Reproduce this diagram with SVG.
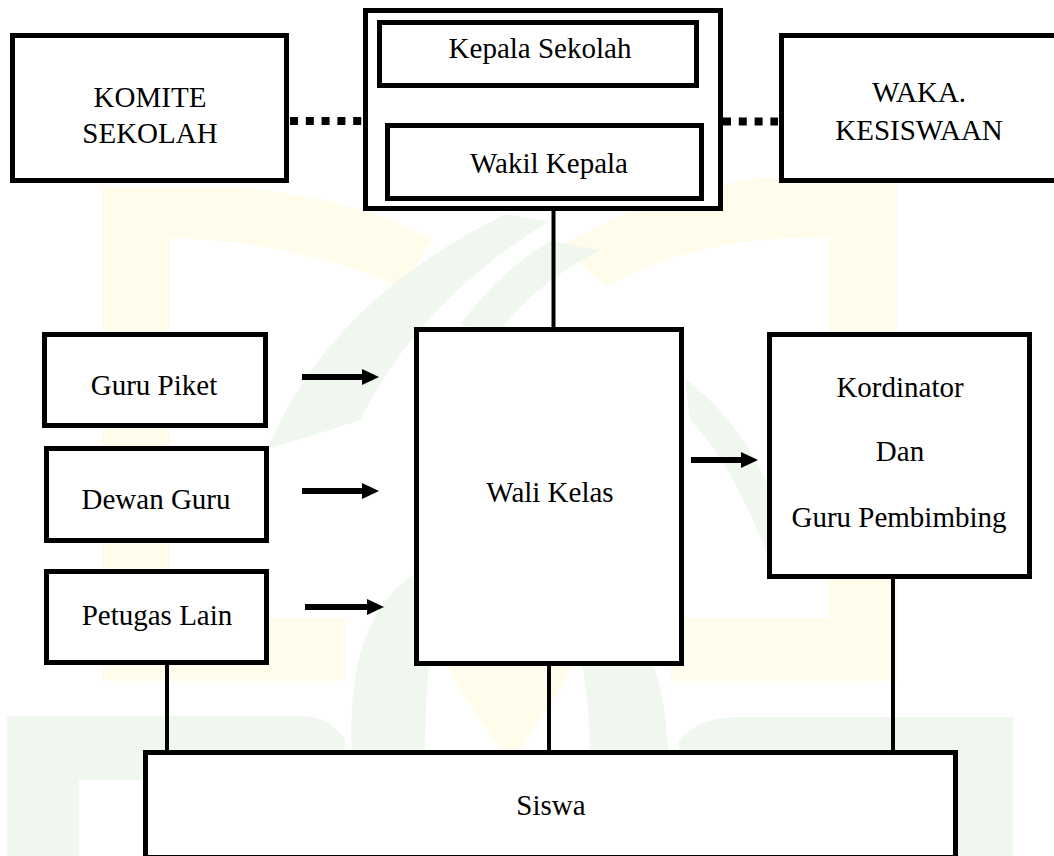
<svg xmlns="http://www.w3.org/2000/svg" width="1054" height="856" viewBox="0 0 1054 856">
<style>
.box{fill:#ffffff;stroke:#000000;stroke-width:5}
.lbl{font-family:"Liberation Serif","Times New Roman",serif;font-size:29px;fill:#000000;text-anchor:middle}
.conn{stroke:#000000;stroke-width:4;fill:none}
.dot{stroke:#000000;stroke-width:8;fill:none;stroke-dasharray:8 7.8}
.arr{stroke:#000000;stroke-width:6;fill:none}
.wy{fill:#fffcec}
.wg{fill:#eff7ee}
</style>
<defs>
<marker id="ah" viewBox="0 0 17 16" refX="4" refY="8" markerWidth="17" markerHeight="16" markerUnits="userSpaceOnUse" orient="auto">
<path d="M0,0 L17,8 L0,16 Z" fill="#000000"/>
</marker>
</defs>
<rect x="0" y="0" width="1054" height="856" fill="#ffffff"/>
<g id="watermark">
<path class="wy" d="M102,681 L102,187 L233,187 Q360,198 433,240 L400,287 Q300,242 170,238 L170,618 L345,618 L345,681 Z"/>
<path class="wy" d="M897,681 L897,178 L760,178 Q640,196 560,247 L607,287 Q690,237 829,237 L829,618 L671,618 L671,681 Z"/>
<path class="wy" d="M440,650 L580,650 L560,690 L520,750 L500,750 L460,690 Z"/>
<path class="wg" d="M268,448 Q330,300 506,214 L548,222 Q420,300 360,420 Q300,440 268,448 Z"/>
<path class="wg" d="M460,325 Q500,270 551,241 L600,250 Q540,280 500,330 Z"/>
<path class="wg" d="M685,379 Q740,420 770,490 L770,560 Q730,460 690,420 Z"/>
<path class="wg" d="M352,754 Q345,620 414,574 L440,600 Q425,660 425,754 Z"/>
<path class="wg" d="M590,754 Q590,660 560,600 L600,580 Q665,640 668,754 Z"/>
<path class="wg" d="M7,856 L7,716 L300,716 Q330,716 345,740 L345,780 L79,780 L79,856 Z"/>
<path class="wg" d="M1013,856 L1013,717 L738,717 Q700,717 679,740 L679,780 L958,780 L958,856 Z"/>
</g>
<g id="connectors">
<line class="conn" x1="553.5" y1="210" x2="553.5" y2="329"/>
<line class="conn" x1="167" y1="664" x2="167" y2="752"/>
<line class="conn" x1="549" y1="665" x2="549" y2="752"/>
<line class="conn" x1="893" y1="578" x2="893" y2="752"/>
<line class="dot" x1="290" y1="121" x2="362" y2="121"/>
<line class="dot" x1="723" y1="121.5" x2="778" y2="121.5"/>
<line class="arr" x1="302" y1="377" x2="366" y2="377" marker-end="url(#ah)"/>
<line class="arr" x1="302" y1="491" x2="366" y2="491" marker-end="url(#ah)"/>
<line class="arr" x1="305" y1="607" x2="371" y2="607" marker-end="url(#ah)"/>
<line class="arr" x1="691" y1="460" x2="745" y2="460" marker-end="url(#ah)"/>
</g>
<g id="komite">
<rect class="box" x="12.5" y="35.5" width="274" height="145"/>
<text class="lbl" x="150" y="107">KOMITE</text>
<text class="lbl" x="150" y="143">SEKOLAH</text>
</g>
<g id="pimpinan">
<rect class="box" x="365.5" y="10.5" width="355" height="198"/>
</g>
<g id="kepala-sekolah">
<rect class="box" x="379.5" y="22.5" width="317" height="63"/>
<text class="lbl" x="540" y="58">Kepala Sekolah</text>
</g>
<g id="wakil-kepala">
<rect class="box" x="387.5" y="125.5" width="314" height="73"/>
<text class="lbl" x="549" y="173">Wakil Kepala</text>
</g>
<g id="waka-kesiswaan">
<rect class="box" x="781.5" y="35.5" width="300" height="145"/>
<text class="lbl" x="919" y="102">WAKA.</text>
<text class="lbl" x="919" y="140">KESISWAAN</text>
</g>
<g id="guru-piket">
<rect class="box" x="44.5" y="334.5" width="221" height="91"/>
<text class="lbl" x="154" y="395">Guru Piket</text>
</g>
<g id="dewan-guru">
<rect class="box" x="46.5" y="448.5" width="220" height="92"/>
<text class="lbl" x="156" y="509">Dewan Guru</text>
</g>
<g id="petugas-lain">
<rect class="box" x="46.5" y="571.5" width="220" height="91"/>
<text class="lbl" x="157" y="625">Petugas Lain</text>
</g>
<g id="wali-kelas">
<rect class="box" x="416.5" y="329.5" width="265" height="334"/>
<text class="lbl" x="550" y="502">Wali Kelas</text>
</g>
<g id="kordinator">
<rect class="box" x="769.5" y="334.5" width="260" height="242"/>
<text class="lbl" x="900" y="397">Kordinator</text>
<text class="lbl" x="900" y="461">Dan</text>
<text class="lbl" x="899" y="527">Guru Pembimbing</text>
</g>
<g id="siswa">
<rect class="box" x="145.5" y="752.5" width="810" height="105"/>
<text class="lbl" x="551" y="815">Siswa</text>
</g>
</svg>
